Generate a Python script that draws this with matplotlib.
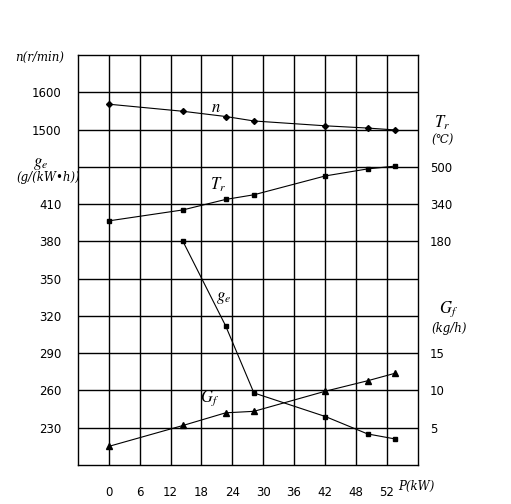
import matplotlib.pyplot as plt

# data
P = [0, 14.4, 22.7, 28.2, 42.1, 50.3, 55.6]          # kW
n_vals = [1568, 1549, 1535, 1523, 1510, 1504, 1499]  # r/min
Tr_vals = [268, 315, 360, 380, 461, 491, 503]        # deg C
P_ge = [14.4, 22.7, 28.2, 42.1, 50.3, 55.6]
ge_vals = [380, 312, 258, 239, 225, 221]              # g/(kW*h)
Gf_vals = [2.5, 5.3, 7.0, 7.2, 9.9, 11.3, 12.3]       # kg/h

p_ticks = [0, 6, 12, 18, 24, 30, 36, 42, 48, 54]
p_tick_labels = ["0", "6", "12", "18", "24", "30", "36", "42", "48", "52"]
ge_ticks = [230, 260, 290, 320, 350, 380, 410]
n_ticks = [1500, 1600]
Tr_ticks = [180, 340, 500]
Gf_ticks = [5, 10, 15]

plt.rcParams['mathtext.fontset'] = 'stix'
num_font = dict(family='DejaVu Sans', size=8.5)
lab_font = dict(family=['DejaVu Serif', 'DejaVu Sans'], style='italic', size=8.5)
math_size = 12

fig = plt.figure(figsize=(5.11, 5.04), dpi=100)
ax = fig.add_axes([78 / 511, 39 / 504, 339.5 / 511, 410 / 504])

# shared grid: 11 x 11 cells
ax.set_xlim(-6, 60)
ax.set_ylim(200, 530)
for x in p_ticks:
    ax.axvline(x, color='black', lw=1.0, zorder=1)
for y in range(230, 530, 30):
    ax.axhline(y, color='black', lw=1.0, zorder=1)
for s in ax.spines.values():
    s.set_linewidth(1.0)

ax.set_xticks(p_ticks)
ax.set_xticklabels(p_tick_labels, **num_font)
ax.set_yticks(ge_ticks)
ax.set_yticklabels([str(v) for v in ge_ticks], **num_font)
ax.tick_params(axis='x', length=0, pad=15)
ax.tick_params(axis='y', length=0, pad=12)

ax_n = ax.twinx()
ax_n.set_ylim(600, 1700)
ax_n.yaxis.tick_left()
ax_n.set_yticks(n_ticks)
ax_n.set_yticklabels([str(v) for v in n_ticks], **num_font)
ax_n.tick_params(axis='y', length=0, pad=12)

ax_T = ax.twinx()
ax_T.set_ylim(-780, 980)
ax_T.set_yticks(Tr_ticks)
ax_T.set_yticklabels([str(v) for v in Tr_ticks], **num_font)
ax_T.tick_params(axis='y', length=0, pad=9)

ax_G = ax.twinx()
ax_G.set_ylim(0, 55)
ax_G.set_yticks(Gf_ticks)
ax_G.set_yticklabels([str(v) for v in Gf_ticks], **num_font)
ax_G.tick_params(axis='y', length=0, pad=9)

for a in (ax_n, ax_T, ax_G):
    for s in a.spines.values():
        s.set_visible(False)

ax_n.plot(P, n_vals, color='black', lw=0.8, marker='D', ms=3)
ax_T.plot(P, Tr_vals, color='black', lw=0.8, marker='s', ms=3.5)
ax.plot(P_ge, ge_vals, color='black', lw=0.8, marker='s', ms=3, zorder=3)
ax_G.plot(P, Gf_vals, color='black', lw=0.8, marker='^', ms=4)

# curve names
ax_n.text(20.9, 1561, r'$n$', fontsize=math_size, ha='center', va='center')
ax_T.text(21.2, 423, r'$T_r$', fontsize=math_size, ha='center', va='center')
ax.text(22.2, 335, r'$g_e$', fontsize=math_size, ha='center', va='center')
ax_G.text(19.6, 8.9, r'$G_f$', fontsize=math_size, ha='center', va='center')

# axis titles
tr = ax.transAxes
ax.text(-0.04, 0.995, 'n(r/min)', transform=tr, ha='right', va='center', **lab_font)
ax.text(-0.109, 0.737, r'$g_e$', transform=tr, ha='center', va='center', fontsize=math_size)
ax.text(-0.087, 0.700, '(g/(kW\u2022h))', transform=tr, ha='center', va='center', **lab_font)
ax.text(1.071, 0.835, r'$T_r$', transform=tr, ha='center', va='center', fontsize=math_size)
ax.text(1.074, 0.791, '(\u2103)', transform=tr, ha='center', va='center', **lab_font)
ax.text(1.091, 0.380, r'$G_f$', transform=tr, ha='center', va='center', fontsize=math_size)
ax.text(1.094, 0.333, '(kg/h)', transform=tr, ha='center', va='center', **lab_font)
ax.text(0.942, -0.052, 'P(kW)', transform=tr, ha='left', va='center', **lab_font)

fig.savefig('out.png', dpi=100)
